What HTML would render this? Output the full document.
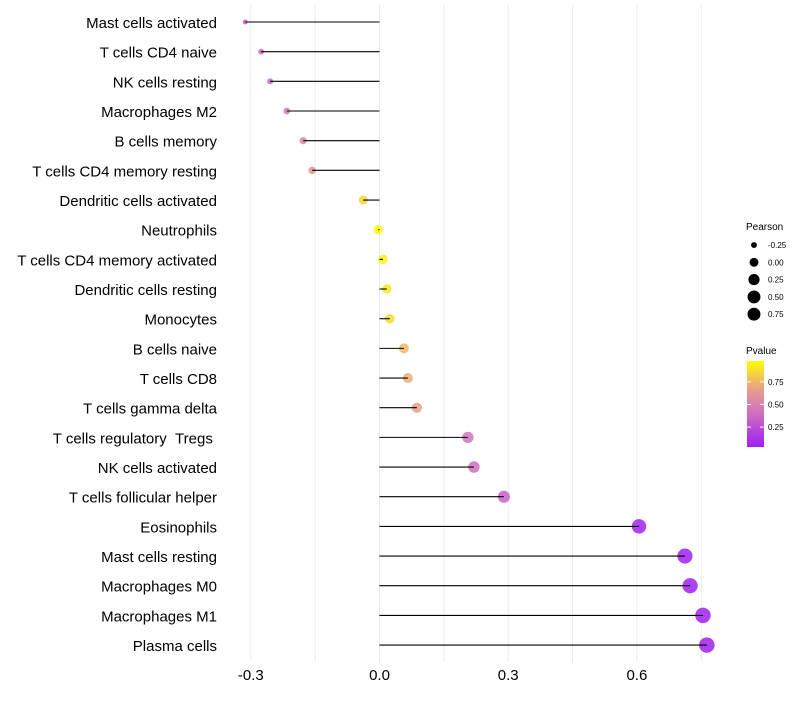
<!DOCTYPE html>
<html><head><meta charset="utf-8"><style>
body{margin:0;background:#fff;font-family:"Liberation Sans",sans-serif}
</style></head><body>
<svg id="chart" width="800" height="700" xmlns="http://www.w3.org/2000/svg" font-family="Liberation Sans, sans-serif">
<defs><linearGradient id="pg" x1="0" y1="1" x2="0" y2="0">
<stop offset="0" stop-color="#A020F0"/><stop offset="0.4" stop-color="#D070C0"/><stop offset="0.68" stop-color="#E8A088"/><stop offset="1" stop-color="#FFFF00"/></linearGradient></defs>
<g id="grid"></g><g id="dots"></g><g id="marks"></g><g id="labels"></g>
<g>
<text x="746" y="230" font-size="10" fill="#000">Pearson</text>
<g id="sizeleg"></g>
</g>
<g>
<text x="746" y="354" font-size="10" fill="#000">Pvalue</text>
<rect x="747" y="361" width="17" height="86" fill="url(#pg)"/>
<g id="colleg"></g>
</g>
</svg>
<script>
const categories=["Mast cells activated","T cells CD4 naive","NK cells resting","Macrophages M2","B cells memory","T cells CD4 memory resting","Dendritic cells activated","Neutrophils","T cells CD4 memory activated","Dendritic cells resting","Monocytes","B cells naive","T cells CD8","T cells gamma delta","T cells regulatory \u00a0Tregs\u00a0","NK cells activated","T cells follicular helper","Eosinophils","Mast cells resting","Macrophages M0","Macrophages M1","Plasma cells"];
const pearson=[-0.313,-0.276,-0.255,-0.216,-0.178,-0.157,-0.038,-0.003,0.008,0.017,0.024,0.057,0.066,0.087,0.206,0.220,0.290,0.605,0.712,0.724,0.754,0.763];
const pvalues=[0.32,0.35,0.38,0.45,0.55,0.6,0.86,0.98,0.95,0.92,0.88,0.76,0.73,0.66,0.42,0.4,0.32,0.01,0.002,0.002,0.001,0.001];
const xTicks=[-0.3,0.0,0.3,0.6];
const xTickLabels=["-0.3","0.0","0.3","0.6"];
const sizeLegVals=[-0.25,0.00,0.25,0.50,0.75];
const sizeLegLabels=["-0.25","0.00","0.25","0.50","0.75"];
const colLegVals=[0.25,0.50,0.75];
const colLegLabels=["0.25","0.50","0.75"];

const NS="http://www.w3.org/2000/svg";
const X=v=>379.5+v*429;
const Y=i=>22+i*29.67;
const R=v=>Math.sqrt(Math.max(3,22+50*v));
const stops=[[0,[160,32,240]],[0.4,[208,112,192]],[0.68,[232,160,136]],[1,[255,255,0]]];
function col(p){for(let k=1;k<stops.length;k++){if(p<=stops[k][0]){const a=stops[k-1],b=stops[k],t=(p-a[0])/(b[0]-a[0]);return `rgb(${a[1].map((c,j)=>Math.round(c+(b[1][j]-c)*t)).join(',')})`;}}return 'rgb(255,255,0)';}
function mk(tag,at,parent){const e=document.createElementNS(NS,tag);for(const k in at)e.setAttribute(k,at[k]);parent.appendChild(e);return e;}
const grid=document.getElementById('grid'),marks=document.getElementById('marks'),dots=document.getElementById('dots'),labels=document.getElementById('labels');
for(let v=-0.3;v<=0.76;v+=0.15){const g=mk('line',{x1:X(v),x2:X(v),y1:5,y2:662,stroke:'#ebebeb','stroke-width':1},grid);

}
xTicks.forEach((v,i)=>{const t=mk('text',{x:X(v),y:680,'font-size':15,'text-anchor':'middle',fill:'#000'},labels);t.textContent=xTickLabels[i];

});
categories.forEach((c,i)=>{
const t=mk('text',{x:217,y:Y(i)+6,'font-size':15,'text-anchor':'end',fill:'#000'},labels);t.textContent=c;


const d=mk('circle',{cx:X(pearson[i]),cy:Y(i),r:R(pearson[i]),fill:col(pvalues[i]),'fill-opacity':0.85},dots);


const l=mk('line',{x1:X(0),x2:X(pearson[i]),y1:Y(i),y2:Y(i),stroke:'#000','stroke-width':1.1},marks);


});
const sl=document.getElementById('sizeleg');
sizeLegVals.forEach((v,i)=>{const y=245+i*17.3;
const c=mk('circle',{cx:754,cy:y,r:Math.min(R(v),6.8)*0.95,fill:'#000'},sl);


const t=mk('text',{x:768,y:y+3,'font-size':8,fill:'#000'},sl);t.textContent=sizeLegLabels[i];

});
const cl=document.getElementById('colleg');
colLegVals.forEach((v,i)=>{const y=447-(v-0.03)/(0.98-0.03)*86;
const t=mk('text',{x:768,y:y+3,'font-size':8,fill:'#000'},cl);t.textContent=colLegLabels[i];


mk('line',{x1:747,x2:751,y1:y,y2:y,stroke:'#fff','stroke-width':1},cl);
mk('line',{x1:760,x2:764,y1:y,y2:y,stroke:'#fff','stroke-width':1},cl);});
</script>
</body></html>
